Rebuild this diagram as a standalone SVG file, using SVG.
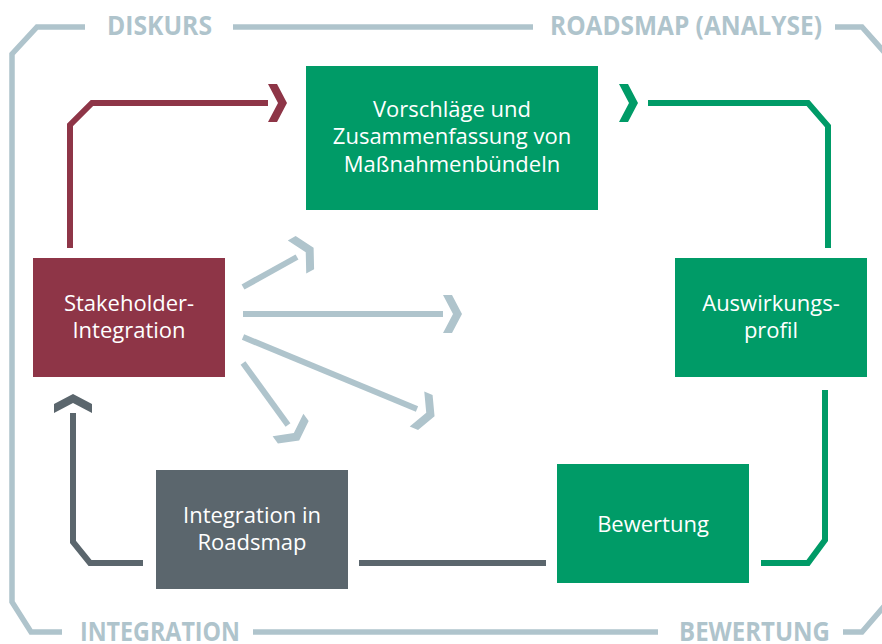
<svg xmlns="http://www.w3.org/2000/svg" width="882" height="644" viewBox="0 0 882 644">
<style>
.frame{fill:none;stroke:#afc4cc;stroke-width:5.5}
.lbl{font-family:"Open Sans","Liberation Sans",sans-serif;font-weight:bold;font-size:27px;fill:#afc4cc}
.box-text{font-family:"Open Sans","Liberation Sans",sans-serif;font-size:22px;fill:#ffffff;text-anchor:middle}
.c{fill:none;stroke-width:6;stroke-linejoin:miter}
.maroon{stroke:#8e3547}
.green{stroke:#009b67}
.dgray{stroke:#5b666d}
.lgray{stroke:#afc4cc}
</style>
<defs>
<marker id="chM" markerUnits="userSpaceOnUse" markerWidth="40" markerHeight="40" viewBox="0 -20 20 40" refX="0" refY="0" orient="auto" overflow="visible">
<polygon points="0,-19 9,-19 19,0 9,19 0,19 10,0" fill="#8e3547"/>
</marker>
<marker id="chD" markerUnits="userSpaceOnUse" markerWidth="40" markerHeight="40" viewBox="0 -20 20 40" refX="0" refY="0" orient="auto" overflow="visible">
<polygon points="0,-19 9,-19 19,0 9,19 0,19 10,0" fill="#5b666d"/>
</marker>
<marker id="chL" markerUnits="userSpaceOnUse" markerWidth="40" markerHeight="40" viewBox="0 -20 20 40" refX="0" refY="0" orient="auto" overflow="visible">
<polygon points="0,-19 9,-19 19,0 9,19 0,19 10,0" fill="#afc4cc"/>
</marker>
</defs>
<rect width="882" height="644" fill="#ffffff"/>

<g id="frame">
<path class="frame" d="M85,27 H37 L12,54 V602 L31,632 H62"/>
<path class="frame" d="M233,27 H533"/>
<path class="frame" d="M835,27 H862 L886,54"/>
<path class="frame" d="M253,632 H658"/>
<path class="frame" d="M843,632 H862 L886,604"/>
<text class="lbl" x="107" y="35" textLength="105" lengthAdjust="spacingAndGlyphs">DISKURS</text>
<text class="lbl" x="550" y="35" textLength="272" lengthAdjust="spacingAndGlyphs">ROADSMAP (ANALYSE)</text>
<text class="lbl" x="80" y="641" textLength="160" lengthAdjust="spacingAndGlyphs">INTEGRATION</text>
<text class="lbl" x="679" y="641" textLength="151" lengthAdjust="spacingAndGlyphs">BEWERTUNG</text>
</g>

<g id="connectors">
<path class="c maroon" d="M70,248 V125 L92,103 H268" marker-end="url(#chM)"/>
<polygon points="619,84 628,84 638,103 628,122 619,122 629,103" fill="#009b67"/>
<path class="c green" d="M648,103 H808 L828,126 V248"/>
<path class="c green" d="M825,390 V540 L808,563 H761"/>
<path class="c dgray" d="M546,563 H359"/>
<path class="c dgray" d="M143,563 H90 L73,542 V413" marker-end="url(#chD)"/>
<path class="c lgray" d="M243,287 L297,257" marker-end="url(#chL)"/>
<path class="c lgray" d="M243,314 H443" marker-end="url(#chL)"/>
<path class="c lgray" d="M243,337 L417,409" marker-end="url(#chL)"/>
<path class="c lgray" d="M243,363 L288,425" marker-end="url(#chL)"/>
</g>

<g id="node-vorschlaege">
<rect x="306" y="66" width="292" height="144" fill="#009b67"/>
<text class="box-text" x="452" y="117">Vorschläge und</text>
<text class="box-text" x="452" y="144">Zusammenfassung von</text>
<text class="box-text" x="452" y="172">Maßnahmenbündeln</text>
</g>

<g id="node-stakeholder">
<rect x="33" y="258" width="192" height="119" fill="#8e3547"/>
<text class="box-text" x="129" y="311">Stakeholder-</text>
<text class="box-text" x="129" y="338">Integration</text>
</g>

<g id="node-auswirkung">
<rect x="675" y="258" width="192" height="119" fill="#009b67"/>
<text class="box-text" x="771" y="311">Auswirkungs-</text>
<text class="box-text" x="771" y="338">profil</text>
</g>

<g id="node-integration">
<rect x="156" y="470" width="192" height="119" fill="#5b666d"/>
<text class="box-text" x="252" y="523">Integration in</text>
<text class="box-text" x="252" y="550">Roadsmap</text>
</g>

<g id="node-bewertung">
<rect x="557" y="464" width="192" height="119" fill="#009b67"/>
<text class="box-text" x="653" y="532">Bewertung</text>
</g>
</svg>
